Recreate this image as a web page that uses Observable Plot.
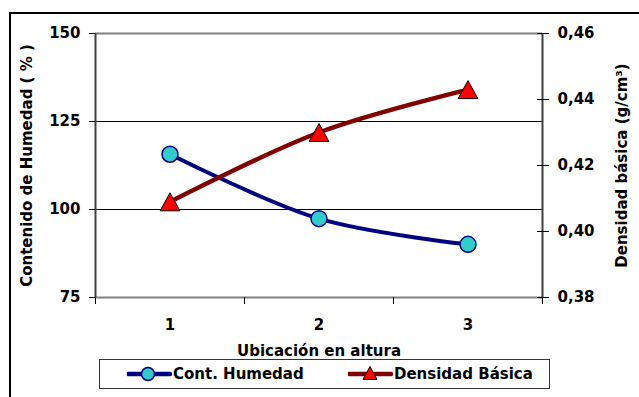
<!DOCTYPE html>
<html>
<head>
<meta charset="utf-8">
<script src="https://cdn.jsdelivr.net/npm/d3@7"></script>
<script src="https://cdn.jsdelivr.net/npm/@observablehq/plot@0.6"></script>
<style>
  body { margin: 0; background: #fff; }
  #wrap { position: relative; width: 639px; height: 397px; overflow: hidden; font-family: "DejaVu Sans", sans-serif; font-weight: bold; }
  #frame { position: absolute; left: 9px; top: 12px; width: 640px; height: 400px; border-left: 2px solid #000; border-top: 2px solid #000; box-sizing: border-box; }
  #chart { position: absolute; left: 0; top: 0; }
  #legend { position: absolute; left: 99px; top: 359px; width: 451px; height: 30px; border: 1px solid #333; box-sizing: border-box; background: #fff; font-size: 15px; }
  .item { position: absolute; top: 0; height: 28px; display: flex; align-items: center; white-space: nowrap; }
  .item svg { display: block; }
</style>
</head>
<body>
<div id="wrap">
  <div id="frame"></div>
  <div id="chart"></div>
  <div id="legend"></div>
</div>
<script>
const categories = [1, 2, 3];
const humedad = [115.7, 97.4, 90.1];
const densidad = [0.409, 0.430, 0.443];
const leftTicks = [75, 100, 125, 150];
const rightTicks = [0.38, 0.40, 0.42, 0.44, 0.46];
const xTitle = "Ubicación en altura";
const yLeftTitle = "Contenido de Humedad ( % )";
const yRightTitle = "Densidad básica (g/cm³)";
const seriesNames = ["Cont. Humedad", "Densidad Básica"];

const toLeft = v => 75 + (v - 0.38) / 0.08 * 75;
const fromLeft = v => 0.38 + (v - 75) / 75 * 0.08;

const humData = categories.map((c, i) => ({x: c, y: humedad[i]}));
const denData = categories.map((c, i) => ({x: c, y: toLeft(densidad[i])}));

const triUp = {
  draw(ctx, size) {
    const r = Math.sqrt(size / Math.PI);
    ctx.moveTo(0, -r);
    ctx.lineTo(1.1 * r, r);
    ctx.lineTo(-1.1 * r, r);
    ctx.closePath();
  }
};

const chart = Plot.plot({
  width: 639,
  height: 360,
  marginLeft: 95,
  marginRight: 97,
  marginTop: 33,
  marginBottom: 63,
  x: {domain: [0.5, 3.5]},
  y: {domain: [75, 150]},
  style: {fontFamily: "DejaVu Sans, sans-serif", fontSize: "15px", fontWeight: "bold", color: "#000", background: "transparent"},
  marks: [
    Plot.ruleY([100, 125], {stroke: "#000", strokeWidth: 1}),
    Plot.ruleY([150], {stroke: "#808080", strokeWidth: 2}),
    Plot.ruleY([75], {stroke: "#808080", strokeWidth: 2}),
    Plot.ruleX([0.5], {stroke: "#404040", strokeWidth: 2}),
    Plot.ruleX([3.5], {stroke: "#404040", strokeWidth: 2}),
    Plot.axisY(leftTicks, {anchor: "left", tickSize: 6, tickPadding: 9, label: null, stroke: "#000"}),
    Plot.axisY(rightTicks.map(toLeft), {anchor: "right", tickSize: 12, tickPadding: 9, dx: -6, label: null,
      tickFormat: d => d3.format(".2f")(fromLeft(d)).replace(".", ",")}),
    Plot.axisX([0.5, 1.5, 2.5, 3.5], {tickSize: 7, tickFormat: () => "", label: null}),
    Plot.axisX(categories, {tickSize: 0, tickPadding: 22, label: null, tickFormat: d => String(d)}),
    Plot.text([xTitle], {frameAnchor: "bottom", text: d => d, dy: 54, lineAnchor: "middle", textAnchor: "middle"}),
    Plot.text([yLeftTitle], {frameAnchor: "left", text: d => d, rotate: -90, dx: -68, lineAnchor: "middle", textAnchor: "middle"}),
    Plot.text([yRightTitle], {frameAnchor: "right", text: d => d, rotate: -90, dx: 80, lineAnchor: "middle", textAnchor: "middle"}),
    Plot.line(humData, {x: "x", y: "y", stroke: "#000080", strokeWidth: 4, curve: "catmull-rom"}),
    Plot.dot(humData, {x: "x", y: "y", r: 8, fill: "#33CCCC", stroke: "#000080", strokeWidth: 1.5}),
    Plot.line(denData, {x: "x", y: "y", stroke: "#800000", strokeWidth: 4.5, curve: "catmull-rom"}),
    Plot.dot(denData, {x: "x", y: "y", r: 9, symbol: triUp, fill: "#FF0000", stroke: "#000", strokeWidth: 1})
  ]
});
document.getElementById("chart").appendChild(chart);

// Legend
const legend = d3.select("#legend");
const items = [
  {left: 27, name: seriesNames[0], color: "#000080", marker: "circle"},
  {left: 248, name: seriesNames[1], color: "#800000", marker: "triangle"}
];
items.forEach(it => {
  const div = legend.append("div").attr("class", "item").style("left", it.left + "px");
  const svg = div.append("svg").attr("width", 45).attr("height", 20);
  svg.append("line").attr("x1", 1).attr("x2", 43).attr("y1", 10).attr("y2", 10)
    .attr("stroke", it.color).attr("stroke-width", 4.5).attr("stroke-linecap", "round");
  if (it.marker === "circle") {
    svg.append("circle").attr("cx", 21).attr("cy", 10).attr("r", 6.5)
      .attr("fill", "#33CCCC").attr("stroke", "#000080").attr("stroke-width", 1.5);
  } else {
    svg.append("path").attr("d", "M22,2.5 L29,15.5 L15,15.5 Z")
      .attr("fill", "#FF0000").attr("stroke", "#000").attr("stroke-width", 1);
  }
  div.append("span").text(it.name).style("margin-left", "1px");
});
</script>
</body>
</html>
